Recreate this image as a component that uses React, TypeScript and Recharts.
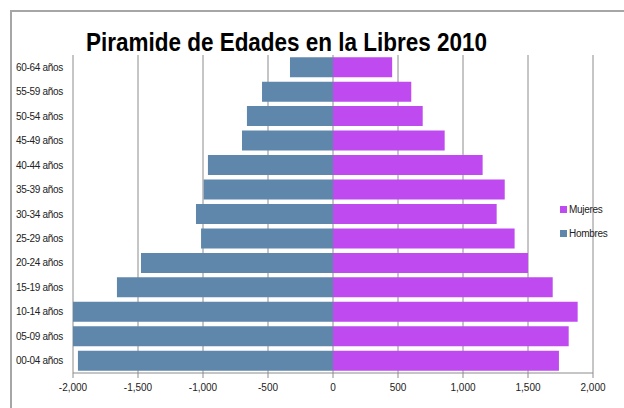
import React from 'react';
import { BarChart, Bar, XAxis, YAxis, CartesianGrid } from 'recharts';

// grupos de edad, de abajo hacia arriba
const grupos = [
  '00-04 años', '05-09 años', '10-14 años', '15-19 años', '20-24 años', '25-29 años', '30-34 años',
  '35-39 años', '40-44 años', '45-49 años', '50-54 años', '55-59 años', '60-64 años',
];
const hombres = [-1962, -2000, -2000, -1662, -1477, -1015, -1054, -995, -962, -700, -662, -546, -331];
const mujeres = [1738, 1813, 1882, 1690, 1500, 1397, 1259, 1321, 1151, 859, 690, 602, 455];
const xTicks = [-2000, -1500, -1000, -500, 0, 500, 1000, 1500, 2000];

const data = grupos.map((g, i) => ({ grupo: g, Hombres: hombres[i], Mujeres: mujeres[i] }));

const AZUL = '#5F87AB';
const MORADO = '#BE4AF0';
const FONT = '"Liberation Sans", Arial, sans-serif';

const YTick = (props: any) => {
  const { y, payload } = props;
  return (
    <text x={16} y={y} dy={3.5} fontSize={10} fontFamily={FONT} fill="#222" letterSpacing={-0.3}>
      {payload.value}
    </text>
  );
};

// leyenda: Mujeres arriba, Hombres abajo
const leyenda = [
  { name: 'Mujeres', color: MORADO },
  { name: 'Hombres', color: AZUL },
];

const LegendBox = () => (
  <div style={{ position: 'absolute', left: 560, top: 197, fontFamily: FONT, fontSize: 10, color: '#222' }}>
    {leyenda.map((it) => (
      <div key={it.name} style={{ display: 'flex', alignItems: 'center', height: 24, letterSpacing: -0.3 }}>
        <span style={{ width: 7, height: 7, background: it.color, marginRight: 2, display: 'inline-block' }} />
        {it.name}
      </div>
    ))}
  </div>
);

export default function App() {
  return (
    <div style={{ position: 'fixed', left: 0, top: 0, width: 624, height: 408, background: '#fff', overflow: 'hidden' }}>
      <div
        style={{
          position: 'absolute', left: 10, top: 10, width: 640, height: 420,
          borderLeft: '2px solid #A6A6A6', borderTop: '2px solid #A6A6A6',
        }}
      />
      <BarChart
        width={624}
        height={408}
        data={data}
        layout="vertical"
        stackOffset="sign"
        barCategoryGap="9%"
        margin={{ top: 55, right: 31, bottom: 5, left: 0 }}
      >
        <CartesianGrid horizontal={false} stroke="#8C8C8C" />
        <XAxis
          type="number"
          domain={[-2000, 2000]}
          ticks={xTicks}
          interval={0}
          height={30}
          stroke="#8C8C8C"
          tickSize={5}
          tickMargin={6}
          tickFormatter={(v: number) => v.toLocaleString('en-US')}
          tick={{ fontSize: 10, fontFamily: FONT, fill: '#222' }}
        />
        <YAxis
          type="category"
          dataKey="grupo"
          reversed
          width={73}
          axisLine={false}
          tickLine={false}
          interval={0}
          tick={<YTick />}
        />
        <Bar dataKey="Hombres" stackId="p" fill={AZUL} isAnimationActive={false} />
        <Bar dataKey="Mujeres" stackId="p" fill={MORADO} isAnimationActive={false} />
      </BarChart>
      <LegendBox />
      <svg style={{ position: 'absolute', left: 0, top: 0 }} width={624} height={60}>
        <text
          x={86}
          y={51}
          fontSize={25}
          fontWeight="bold"
          fontFamily={FONT}
          textLength={401}
          lengthAdjust="spacingAndGlyphs"
          fill="#000"
        >
          Piramide de Edades en la Libres 2010
        </text>
      </svg>
    </div>
  );
}
